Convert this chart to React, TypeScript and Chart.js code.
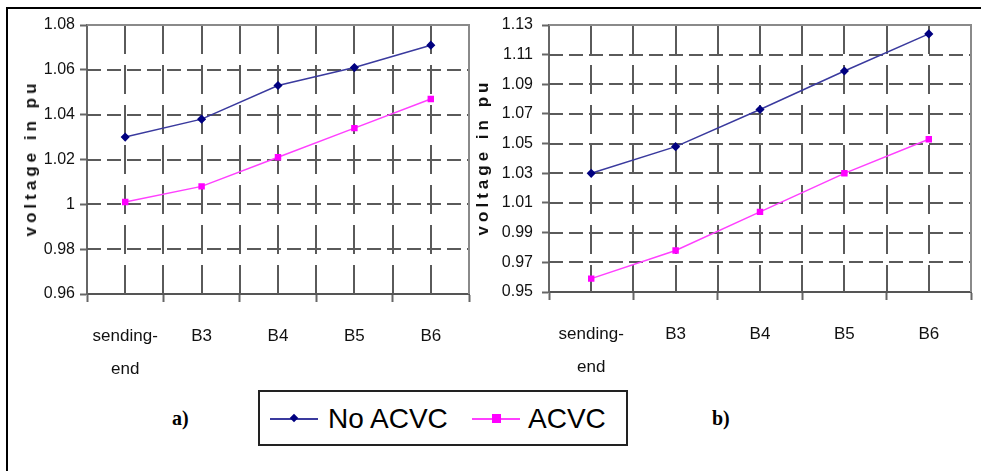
import React, { useEffect, useRef } from "react";
import { Chart, registerables } from "chart.js";

Chart.register(...registerables);

// ---------- data ----------
const categories: (string | string[])[] = [["sending-", "end"], "B3", "B4", "B5", "B6"];
const seriesNames = ["No ACVC", "ACVC"];
const aNoAcvc = [1.03, 1.038, 1.053, 1.061, 1.071];
const aAcvc = [1.001, 1.008, 1.021, 1.034, 1.047];
const bNoAcvc = [1.03, 1.048, 1.073, 1.099, 1.124];
const bAcvc = [0.959, 0.978, 1.004, 1.03, 1.053];
const aTickValues = [0.96, 0.98, 1.0, 1.02, 1.04, 1.06, 1.08];
const bTickValues = [0.95, 0.97, 0.99, 1.01, 1.03, 1.05, 1.07, 1.09, 1.11, 1.13];
const yTitle = "voltage in pu";
const panelLabels = ["a)", "b)"];

const NAVY = "#000080";
const NAVY_LINE = "#3a3a9e";
const PINK = "#ff00ff";
const PINK_LINE = "#ff40ff";
const SANS = "'Liberation Sans', Arial, sans-serif";

const excelGrid = {
  id: "excelGrid",
  beforeDatasetsDraw(chart: any) {
    const { ctx, chartArea, scales } = chart;
    const { left, right, top, bottom } = chartArea;
    const x = scales.x;
    const y = scales.y;
    ctx.save();
    ctx.lineWidth = 2;
    ctx.strokeStyle = "#5a5a5a";
    // horizontal dashed grid
    ctx.setLineDash([14, 6]);
    y.ticks.forEach((t: any) => {
      const py = Math.round(y.getPixelForValue(t.value));
      if (py <= top + 2 || py >= bottom - 2) return;
      ctx.beginPath();
      ctx.moveTo(left, py);
      ctx.lineTo(right, py);
      ctx.stroke();
    });
    // vertical dashed grid: category centres and boundaries
    ctx.setLineDash([29, 11]);
    const n = chart.data.labels.length;
    const xs: number[] = [];
    for (let i = 0; i < n; i++) xs.push(x.getPixelForValue(i));
    for (let i = 1; i < n; i++) xs.push(x.getPixelForValue(i - 0.5));
    xs.forEach((px) => {
      const p = Math.round(px);
      ctx.beginPath();
      ctx.moveTo(p, top);
      ctx.lineTo(p, bottom);
      ctx.stroke();
    });
    // top and right frame
    ctx.setLineDash([]);
    ctx.strokeStyle = "#8a8a8a";
    ctx.beginPath();
    ctx.moveTo(left, top);
    ctx.lineTo(right, top);
    ctx.lineTo(right, bottom);
    ctx.stroke();
    ctx.restore();
  },
};

function makeConfig(noAcvc: number[], acvc: number[], tickValues: number[], yWidth: number, xHeight: number, padRight: number, labelPad: number) {
  return {
    type: "line" as const,
    data: {
      labels: categories,
      datasets: [
        {
          label: seriesNames[0],
          data: noAcvc,
          borderColor: NAVY_LINE,
          backgroundColor: NAVY,
          borderWidth: 1.5,
          pointStyle: "rectRot",
          pointRadius: 3.5,
          pointBorderColor: NAVY,
          pointBackgroundColor: NAVY,
          tension: 0,
        },
        {
          label: seriesNames[1],
          data: acvc,
          borderColor: PINK_LINE,
          backgroundColor: PINK,
          borderWidth: 1.5,
          pointStyle: "rect",
          pointRadius: 3.5,
          pointBorderColor: PINK,
          pointBackgroundColor: PINK,
          tension: 0,
        },
      ],
    },
    options: {
      responsive: false,
      animation: false,
      devicePixelRatio: 1,
      layout: { padding: { top: 25, right: padRight, left: 0, bottom: 0 } },
      plugins: { legend: { display: false }, tooltip: { enabled: false } },
      scales: {
        x: {
          type: "category",
          offset: true,
          grid: { offset: true, drawOnChartArea: false, drawTicks: true, tickLength: 8, tickWidth: 2, tickColor: "#666" },
          border: { display: true, color: "#555", width: 2 },
          ticks: { color: "#111", font: { family: SANS, size: 17, lineHeight: 1.95 }, padding: 18, maxRotation: 0, autoSkip: false },
          afterFit: (s: any) => {
            s.height = xHeight;
          },
        },
        y: {
          type: "linear",
          min: tickValues[0],
          max: tickValues[tickValues.length - 1],
          afterBuildTicks: (s: any) => {
            s.ticks = tickValues.map((v) => ({ value: v }));
          },
          grid: { drawOnChartArea: false, drawTicks: true, tickLength: 7, tickWidth: 2, tickColor: "#666" },
          border: { display: true, color: "#666", width: 2 },
          ticks: {
            color: "#111",
            font: { family: SANS, size: 16 },
            padding: labelPad,
            callback: (v: any) => String(Number(Number(v).toFixed(2))),
          },
          afterFit: (s: any) => {
            s.width = yWidth;
          },
        },
      },
    },
    plugins: [excelGrid],
  };
}

function ChartCanvas(props: { left: number; width: number; height: number; config: any }) {
  const ref = useRef<HTMLCanvasElement | null>(null);
  useEffect(() => {
    if (!ref.current) return;
    const chart = new Chart(ref.current, props.config);
    return () => chart.destroy();
  }, []);
  return (
    <canvas
      ref={ref}
      width={props.width}
      height={props.height}
      style={{ position: "absolute", left: props.left, top: 0, width: props.width, height: props.height }}
    />
  );
}

const titleStyle = (cx: number, cy: number): React.CSSProperties => ({
  position: "absolute",
  left: cx,
  top: cy,
  transform: "translate(-50%, -50%) rotate(-90deg)",
  whiteSpace: "nowrap",
  font: "bold 17px 'Liberation Sans', Arial, sans-serif",
  letterSpacing: "4px",
  color: "#111",
});

const panelStyle = (left: number): React.CSSProperties => ({
  position: "absolute",
  left,
  top: 418,
  transform: "translateY(-50%)",
  font: "bold 20px 'Liberation Serif', 'Times New Roman', serif",
  color: "#000",
});

export default function App() {
  const cfgA = makeConfig(aNoAcvc, aAcvc, aTickValues, 87, 86, 21, 5);
  const cfgB = makeConfig(bNoAcvc, bAcvc, bTickValues, 59, 88, 10, 9);
  return (
    <div style={{ position: "absolute", left: 0, top: 0, width: 981, height: 471, background: "#fff", overflow: "hidden" }}>
      <div style={{ position: "absolute", left: 6, top: 7, right: 0, bottom: 0, borderTop: "2px solid #000", borderLeft: "2px solid #000" }} />
      <ChartCanvas left={0} width={490} height={380} config={cfgA} />
      <ChartCanvas left={490} width={491} height={380} config={cfgB} />
      <div style={titleStyle(31, 158)}>{yTitle}</div>
      <div style={titleStyle(483, 157)}>{yTitle}</div>
      <div style={panelStyle(172)}>{panelLabels[0]}</div>
      <div style={panelStyle(712)}>{panelLabels[1]}</div>
      <div
        style={{
          position: "absolute",
          left: 258,
          top: 390,
          width: 370,
          height: 56,
          boxSizing: "border-box",
          border: "2px solid #222",
          background: "#fff",
        }}
      >
        <div style={{ position: "absolute", left: 10, top: 26, width: 48, height: 2, background: NAVY_LINE }} />
        <div style={{ position: "absolute", left: 31, top: 23, width: 6, height: 6, background: NAVY, transform: "rotate(45deg)" }} />
        <div style={{ position: "absolute", left: 68, top: 27, transform: "translateY(-50%)", font: "28px 'Liberation Sans', Arial, sans-serif", color: "#000", whiteSpace: "nowrap" }}>
          {seriesNames[0]}
        </div>
        <div style={{ position: "absolute", left: 212, top: 26, width: 48, height: 2, background: PINK_LINE }} />
        <div style={{ position: "absolute", left: 232, top: 22, width: 9, height: 9, background: PINK }} />
        <div style={{ position: "absolute", left: 268, top: 27, transform: "translateY(-50%)", font: "28px 'Liberation Sans', Arial, sans-serif", color: "#000", whiteSpace: "nowrap" }}>
          {seriesNames[1]}
        </div>
      </div>
    </div>
  );
}
